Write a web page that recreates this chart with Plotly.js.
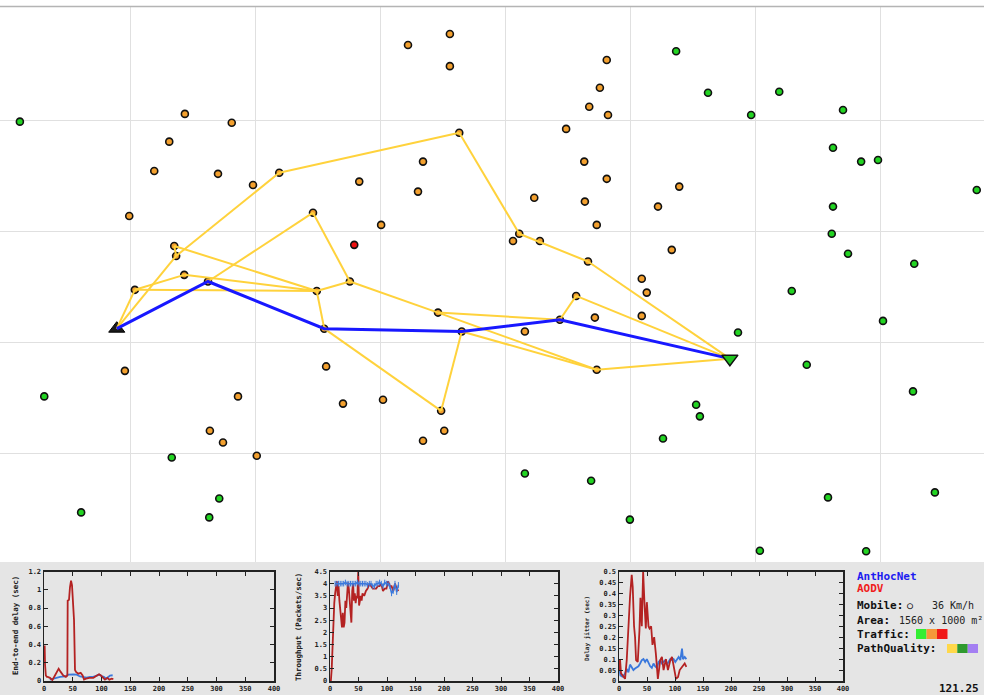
<!DOCTYPE html>
<html>
<head>
<meta charset="utf-8">
<script src="https://cdn.plot.ly/plotly-3.0.1.min.js"></script>
<style>
  html, body { margin: 0; padding: 0; background: #ffffff; }
  #chart { width: 984px; height: 695px; }
</style>
</head>
<body>
<div id="chart"></div>
<script>
// ---- Network snapshot: node positions in metres (x across, y downward), 1560 x 1000 m area ----
const greenX = [23,1073,1124,1238,1193,1340,1324,1369,1396,1554,1324,1322,1348,1454,1258,1404,1172,1282,1452,62,1105,1111,1052,266,831,937,342,121,326,999,1316,1487,1207,1377];
const greenY = [203,76,151,149,191,182,250,275,272,326,356,405,441,459,508,562,583,641,689,698,713,734,774,808,837,850,882,907,916,920,880,871,976,977];

const orangeX = [644,711,711,962,951,934,964,287,362,897,262,238,340,396,566,660,668,198,601,926,962,1078,846,927,1044,946,812,855,1066,1018,1026,1018,943,831,191,513,372,540,604,327,348,402,668,702];
const orangeY = [65,45,103,92,142,176,191,189,205,216,239,292,297,317,311,329,275,373,389,275,306,320,340,347,356,389,418,418,434,486,511,553,556,581,652,644,698,711,704,760,781,805,778,760];

const redX = [558];
const redY = [425];

// nodes that carry ant routes (SRC = source, DST = destination)
const routeIds = ['SRC','A1','A2','B','C','D','E','F','G','H','I','J','P','Q','R','S','T','U','V','W','DST'];
const routeX   = [178,270,273,286,207,324,438,492,498,551,510,730,697,726,822,932,692,887,946,913,1159];
const routeY   = [576,427,445,479,506,491,295,367,508,491,576,581,724,223,405,455,547,560,650,517,630];

// candidate paths discovered by the ants
const pathLinks = [
  ['SRC','C'],['SRC','A2'],['A2','A1'],['A2','E'],['E','Q'],['Q','R'],['R','S'],['S','DST'],
  ['A1','G'],['C','B'],['B','G'],['C','G'],['D','F'],['F','H'],['G','H'],['G','I'],
  ['H','T'],['T','U'],['U','W'],['W','DST'],['T','V'],['J','V'],['V','DST'],['I','P'],['P','J']
];
// route currently in use
const bestRoute = ['SRC','D','I','J','U','DST'];

// ---- Performance traces (time in s) ----
const delayAodvT = [0,1.2,1.8,3.2,5,6.4,10.4,14.5,19,22,25.5,29,33.6,38,40.6,41.2,43.5,45.2,47,48.7,50.4,52.2,53.9,55.7,59.7,63.8,67.2,69.6,73,78.8,85.8,91.6,95.7,99,103,106,110,113.6,117.7,120.6];
const delayAodv  = [0.38,0.38,0.18,0.06,0.045,0.045,0.035,0.01,0.06,0.1,0.135,0.1,0.06,0.045,0.06,0.88,0.89,1.03,1.1,1.05,0.85,0.67,0.12,0.1,0.08,0.09,0.06,0.015,0.025,0.035,0.035,0.06,0.073,0.06,0.035,0.015,0.035,0.015,0.025,0.02];
const delayAntT  = [10,16,22,28,36.5,42.3,51,56.8,62.6,68.4,74,80,85.8,91.6,96,100,104,108,112,114.8,119.4];
const delayAnt   = [0.015,0.025,0.035,0.045,0.05,0.07,0.073,0.07,0.05,0.045,0.037,0.045,0.045,0.06,0.07,0.055,0.045,0.025,0.05,0.06,0.063];

const thrAodvT = [0,1.5,3,4.5,6,7.5,9,10.5,12,13.5,15,16.5,18,19.5,21,22.5,24,25.5,27,28.5,30,31.5,33,34.5,36,37.5,39,40.5,42,43.5,45,46.5,48,49.5,51,52.5,54,55.5,57,60,63,66,69,72,75,78,81,84,87,90,93,96,99,102,105,108,111,114,117,120];
const thrAodv  = [0,0,0.5,1.5,2.5,3.2,3.6,4.0,4.1,3.5,3.9,3.3,3.0,2.6,2.2,2.8,2.2,2.4,3.3,3.0,3.6,4.05,3.8,3.3,3.0,2.4,3.7,4.0,3.3,3.6,3.2,3.5,3.4,4.5,3.1,3.3,3.5,3.3,3.6,3.5,3.7,3.8,4.0,3.9,3.8,3.8,3.8,3.9,3.9,4.0,3.7,3.8,3.8,4.1,3.9,3.9,3.7,4.0,3.8,3.7];
const thrAntT  = [9,12,15,18,21,24,27,30,33,36,39,42,45,48,51,54,57,60,63,66,69,72,75,78,81,84,87,90,93,96,99,102,105,108,111,114,117,120];
const thrAnt   = [4.0,4.0,4.0,4.0,4.0,4.0,4.05,4.0,4.0,4.0,4.0,4.0,4.0,4.05,4.0,4.0,4.0,4.0,4.0,3.95,4.0,4.0,3.9,3.9,4.0,4.0,4.05,4.0,3.9,4.05,4.0,4.0,3.9,3.6,3.7,4.0,3.65,3.95];

const jitAodvT = [0,1.8,3.6,7.8,10.8,13.8,16.8,19.7,22.7,24.5,26.9,28.7,30.5,33.5,36.5,38.3,40.7,43.1,45.5,47.9,49.7,52.7,54.5,57.4,59.8,62.8,65.8,69.4,73.6,76.6,79.6,83.8,87.4,91.6,94.6,97.6,101.8,105.4,108.4,112.5,117.3,120.3];
const jitAodv  = [0.05,0.1,0.035,0.02,0.01,0.095,0.26,0.385,0.485,0.43,0.25,0.2,0.095,0.087,0.23,0.38,0.25,0.5,0.355,0.24,0.36,0.25,0.24,0.25,0.165,0.2,0.125,0.01,0.095,0.11,0.05,0.1,0.05,0.095,0.11,0.064,0.01,0.018,0.05,0.064,0.08,0.064];
const jitAntT  = [0,2.5,6,10,13.8,16.8,19.7,22.7,25.7,28.7,31.7,34.7,37.7,40.7,43.7,46.7,49.7,52.7,55.7,58.6,61.6,64.6,67.6,70.6,73.6,76.6,79.6,82.6,85.6,88.6,91.6,94.6,97.5,100.5,103.5,106.5,109.5,112.5,114.3,117.3,120.3];
const jitAnt   = [0.07,0.025,0.02,0.03,0.055,0.04,0.075,0.065,0.05,0.057,0.064,0.067,0.08,0.095,0.1,0.087,0.1,0.08,0.067,0.06,0.08,0.067,0.06,0.087,0.095,0.08,0.087,0.095,0.075,0.087,0.1,0.095,0.1,0.087,0.1,0.11,0.095,0.148,0.1,0.11,0.1];

// ---- helpers: pixel position -> paper fraction ----
const W = 984, H = 695;
const fx = p => p / W;
const fy = p => 1 - p / H;

const pos = id => routeIds.indexOf(id);
const linkX = [], linkY = [];
pathLinks.forEach(([a, b]) => {
  linkX.push(routeX[pos(a)], routeX[pos(b)], null);
  linkY.push(routeY[pos(a)], routeY[pos(b)], null);
});
const bestX = bestRoute.map(id => routeX[pos(id)]);
const bestY = bestRoute.map(id => routeY[pos(id)]);
const relayIdx = routeIds.map((id, i) => i).filter(i => routeIds[i] !== 'SRC' && routeIds[i] !== 'DST');

const nodeLine = { color: '#111111', width: 1.6 };
const RED = '#b42222', BLUE = '#3a78dc';

const traces = [
  { x: greenX, y: greenY, mode: 'markers', type: 'scatter', hoverinfo: 'skip',
    marker: { symbol: 'circle', size: 7, color: '#22d422', line: nodeLine } },
  { x: orangeX.concat(relayIdx.map(i => routeX[i])), y: orangeY.concat(relayIdx.map(i => routeY[i])),
    mode: 'markers', type: 'scatter', hoverinfo: 'skip',
    marker: { symbol: 'circle', size: 7, color: '#f3a02e', line: nodeLine } },
  { x: redX, y: redY, mode: 'markers', type: 'scatter', hoverinfo: 'skip',
    marker: { symbol: 'circle', size: 7, color: '#ee1010', line: nodeLine } },
  { x: [routeX[pos('SRC')]], y: [routeY[pos('SRC')]], mode: 'markers', type: 'scatter', hoverinfo: 'skip',
    marker: { symbol: 'triangle-up', size: 14, color: '#1a1a1a', line: { color: '#000', width: 1 } } },
  { x: linkX, y: linkY, mode: 'lines', type: 'scatter', hoverinfo: 'skip',
    line: { color: '#ffd23c', width: 2 } },
  { x: bestX, y: bestY, mode: 'lines', type: 'scatter', hoverinfo: 'skip',
    line: { color: '#1818ff', width: 3 } },
  { x: [routeX[pos('DST')]], y: [routeY[pos('DST')]], mode: 'markers', type: 'scatter', hoverinfo: 'skip',
    marker: { symbol: 'triangle-down', size: 14, color: '#1fc41f', line: { color: '#111', width: 1.5 } } },

  // end-to-end delay
  { x: delayAntT, y: delayAnt, xaxis: 'x2', yaxis: 'y2', mode: 'lines', type: 'scatter', line: { color: BLUE, width: 1.8 } },
  { x: delayAodvT, y: delayAodv, xaxis: 'x2', yaxis: 'y2', mode: 'lines', type: 'scatter', line: { color: RED, width: 1.8 } },
  // throughput
  { x: thrAodvT, y: thrAodv, xaxis: 'x3', yaxis: 'y3', mode: 'lines', type: 'scatter', line: { color: RED, width: 1.8 } },
  { x: thrAntT, y: thrAnt, xaxis: 'x3', yaxis: 'y3', mode: 'lines+markers', type: 'scatter',
    line: { color: BLUE, width: 1.5 }, marker: { symbol: 'line-ns-open', size: 4, line: { color: BLUE, width: 1 } } },
  // delay jitter
  { x: jitAntT, y: jitAnt, xaxis: 'x4', yaxis: 'y4', mode: 'lines', type: 'scatter', line: { color: BLUE, width: 1.8 } },
  { x: jitAodvT, y: jitAodv, xaxis: 'x4', yaxis: 'y4', mode: 'lines', type: 'scatter', line: { color: RED, width: 1.8 } }
];

const MONO = 'DejaVu Sans Mono';
const tickFont = { family: MONO, size: 7, color: '#222', weight: 'bold' };
const smallAxis = (extra) => Object.assign({
  ticks: 'inside', ticklen: 4, tickwidth: 1, tickcolor: '#222',
  showline: true, linecolor: '#222', linewidth: 1.5, mirror: 'ticks',
  showgrid: false, zeroline: false, tickfont: tickFont, fixedrange: true
}, extra);

const panels = [[44, 274], [330, 558], [619, 843]];
const panelY = [fy(681), fy(571.5)];

const keyBox = (x0, x1, y0, y1, color) => ({
  type: 'rect', xref: 'paper', yref: 'paper', x0: fx(x0), x1: fx(x1), y0: fy(y1), y1: fy(y0),
  fillcolor: color, line: { width: 0 }
});

const boldLabel = { family: MONO, size: 11, color: '#111', weight: 'bold' };
const plainLabel = { family: MONO, size: 10, color: '#222', weight: 'normal' };

const layout = {
  width: W, height: H,
  margin: { l: 0, r: 0, t: 0, b: 0 },
  paper_bgcolor: '#ffffff',
  plot_bgcolor: 'rgba(0,0,0,0)',
  showlegend: false,
  xaxis: { domain: [0, 1], range: [-8.8, 1565.6], tickvals: [200,400,600,800,1000,1200,1400],
           showticklabels: false, ticks: '', showgrid: true, gridcolor: '#e0e0e0', gridwidth: 1,
           zeroline: false, showline: false, fixedrange: true },
  yaxis: { domain: [fy(562), fy(7)], range: [996.4, -3.6], tickvals: [200,400,600,800],
           showticklabels: false, ticks: '', showgrid: true, gridcolor: '#e0e0e0', gridwidth: 1,
           zeroline: false, showline: false, fixedrange: true },

  xaxis2: smallAxis({ anchor: 'y2', domain: [fx(panels[0][0]), fx(panels[0][1])], range: [0, 400], dtick: 50 }),
  yaxis2: smallAxis({ anchor: 'x2', domain: panelY, range: [0, 1.2], dtick: 0.2 }),
  xaxis3: smallAxis({ anchor: 'y3', domain: [fx(panels[1][0]), fx(panels[1][1])], range: [0, 400], dtick: 50 }),
  yaxis3: smallAxis({ anchor: 'x3', domain: panelY, range: [0, 4.5], dtick: 0.5 }),
  xaxis4: smallAxis({ anchor: 'y4', domain: [fx(panels[2][0]), fx(panels[2][1])], range: [0, 400], dtick: 50 }),
  yaxis4: smallAxis({ anchor: 'x4', domain: panelY, range: [0, 0.5], dtick: 0.05 }),

  shapes: [
    { type: 'line', xref: 'paper', yref: 'paper', x0: 0, x1: 1, y0: fy(6.5), y1: fy(6.5),
      line: { color: '#b4b4b4', width: 1.5 } },
    { type: 'rect', xref: 'paper', yref: 'paper', x0: 0, x1: 1, y0: 0, y1: fy(562),
      fillcolor: '#e5e5e5', line: { width: 0 }, layer: 'below' },
    // traffic colour key
    keyBox(916, 926.5, 629, 639, '#33ee33'),
    keyBox(926.5, 937, 629, 639, '#f5983a'),
    keyBox(937, 947.5, 629, 639, '#f01818'),
    // path quality colour key
    keyBox(947, 957.3, 644, 653, '#ffd84a'),
    keyBox(957.3, 967.7, 644, 653, '#2f9a2f'),
    keyBox(967.7, 978, 644, 653, '#a47ff2')
  ],

  annotations: [
    { text: 'End-to-end delay (sec)', x: fx(15), y: fy(626), textangle: -90 },
    { text: 'Throughput (Packets/sec)', x: fx(298), y: fy(627), textangle: -90 },
    { text: 'Delay jitter (sec)', x: fx(587), y: fy(629), textangle: -90, font: { family: MONO, size: 6, color: '#222', weight: 'bold' } },
    { text: 'AntHocNet', x: fx(855), y: fy(576), xanchor: 'left', font: { family: MONO, size: 11, color: '#1c1cf0', weight: 'bold' } },
    { text: 'AODV', x: fx(855), y: fy(588), xanchor: 'left', font: { family: MONO, size: 11, color: '#f01c1c', weight: 'bold' } },
    { text: 'Mobile:', x: fx(855), y: fy(605), xanchor: 'left', font: boldLabel },
    { text: '○', x: fx(905), y: fy(605), xanchor: 'left', font: { family: MONO, size: 10, color: '#111', weight: 'bold' } },
    { text: '36 Km/h', x: fx(930), y: fy(605), xanchor: 'left', font: plainLabel },
    { text: 'Area:', x: fx(855), y: fy(620), xanchor: 'left', font: boldLabel },
    { text: '1560 x 1000 m²', x: fx(897), y: fy(620), xanchor: 'left', font: plainLabel },
    { text: 'Traffic:', x: fx(855), y: fy(634), xanchor: 'left', font: boldLabel },
    { text: 'PathQuality:', x: fx(855), y: fy(648), xanchor: 'left', font: boldLabel },
    { text: '121.25', x: fx(981), y: fy(688), xanchor: 'right', font: boldLabel }
  ].map(a => Object.assign({
    xref: 'paper', yref: 'paper', showarrow: false, xanchor: 'center', yanchor: 'middle',
    font: { family: MONO, size: 7.5, color: '#222', weight: 'bold' }
  }, a))
};

Plotly.newPlot('chart', traces, layout, { staticPlot: true, displayModeBar: false });
</script>
</body>
</html>
